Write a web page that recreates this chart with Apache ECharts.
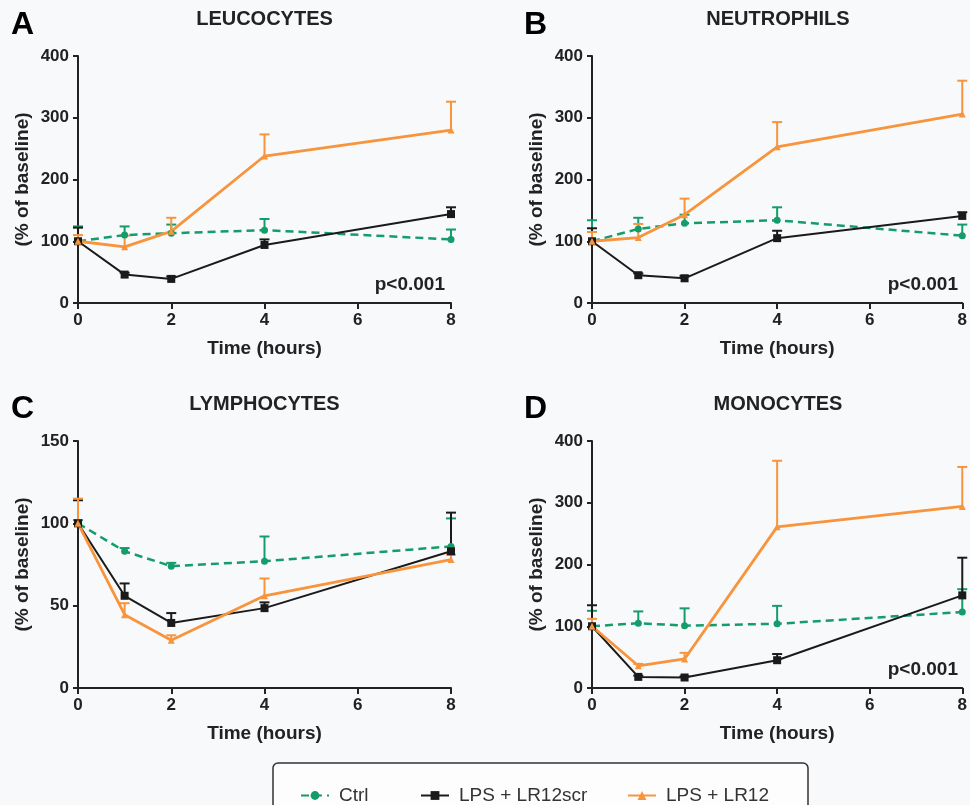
<!DOCTYPE html>
<html><head><meta charset="utf-8">
<script src="https://cdn.jsdelivr.net/npm/echarts@6/dist/echarts.min.js"></script>
<style>html,body{margin:0;padding:0;background:#f8f9fb;}#c{width:970px;height:805px;}</style>
</head><body><div id="c"></div>
<script>
const times = [0, 1, 2, 4, 8];
const seriesNames = ['Ctrl', 'LPS + LR12scr', 'LPS + LR12'];
const panelTitles = ['LEUCOCYTES', 'NEUTROPHILS', 'LYMPHOCYTES', 'MONOCYTES'];
const panelLetters = ['A', 'B', 'C', 'D'];
const yMaxes = [400, 400, 150, 400];
const yIntervals = [100, 100, 50, 100];
const pValueText = 'p<0.001';

// A: Leucocytes
const leuCtrl = [100, 110, 113, 118, 103];
const leuCtrlErr = [24, 14, 14, 18, 16];
const leuScr = [100, 46, 39, 94, 144];
const leuScrErr = [22, 3, 4, 9, 11];
const leuLr12 = [100, 91, 116, 238, 280];
const leuLr12Err = [10, 18, 22, 35, 46];
// B: Neutrophils
const neuCtrl = [100, 120, 129, 134, 109];
const neuCtrlErr = [34, 18, 14, 21, 18];
const neuScr = [100, 45, 40, 105, 141];
const neuScrErr = [21, 3, 4, 12, 6];
const neuLr12 = [100, 106, 143, 253, 306];
const neuLr12Err = [15, 22, 26, 40, 54];
// C: Lymphocytes
const lymCtrl = [100, 83, 74, 77, 86];
const lymCtrlErr = [2, 2, 2, 15, 17];
const lymScr = [100, 56, 39.5, 48.5, 83];
const lymScrErr = [14, 7.5, 6, 3.5, 23.5];
const lymLr12 = [100, 44.5, 29, 56, 78];
const lymLr12Err = [15, 7, 3, 10.5, 3];
// D: Monocytes
const monCtrl = [100, 105, 101, 104, 123];
const monCtrlErr = [25, 19, 28, 29, 37];
const monScr = [100, 18, 17, 45, 150];
const monScrErr = [34, 2, 2, 10, 61];
const monLr12 = [100, 36, 47, 261, 294];
const monLr12Err = [12, 3, 10, 107, 64];

const panelMeans = [[leuCtrl, leuScr, leuLr12], [neuCtrl, neuScr, neuLr12], [lymCtrl, lymScr, lymLr12], [monCtrl, monScr, monLr12]];
const panelErrs = [[leuCtrlErr, leuScrErr, leuLr12Err], [neuCtrlErr, neuScrErr, neuLr12Err], [lymCtrlErr, lymScrErr, lymLr12Err], [monCtrlErr, monScrErr, monLr12Err]];
const showP = [true, true, false, true];

const FONT = "'Liberation Sans', Arial, Helvetica, sans-serif";
const colors = ['#149c6b', '#1a1a1a', '#f7943c'];
const symbols = ['circle', 'rect', 'triangle'];
const symbolSizes = [7, 8, 7];
const lineTypes = [[8, 5], 'solid', 'solid'];
const lineWidths = [2.5, 2, 2.8];
const AX = '#222';

const grids = [
  {left: 78, top: 56, width: 373, height: 247},
  {left: 592, top: 56, width: 372, height: 247},
  {left: 78, top: 441, width: 373, height: 247},
  {left: 592, top: 441, width: 372, height: 247}
];

const xAxes = [], yAxes = [], series = [], graphics = [];
grids.forEach((g, k) => {
  xAxes.push({
    type: 'value', gridIndex: k, min: 0, max: 8, interval: 2,
    name: 'Time (hours)', nameLocation: 'middle', nameGap: 36,
    nameTextStyle: {fontFamily: FONT, fontWeight: 'bold', fontSize: 19, color: AX},
    axisLine: {show: true, onZero: false, lineStyle: {color: AX, width: 2}},
    axisTick: {show: true, length: 6, lineStyle: {color: AX, width: 2}},
    axisLabel: {fontFamily: FONT, fontWeight: 'bold', fontSize: 17, color: AX, margin: 9},
    splitLine: {show: false}
  });
  yAxes.push({
    type: 'value', gridIndex: k, min: 0, max: yMaxes[k], interval: yIntervals[k],
    name: '(% of baseline)', nameLocation: 'middle', nameGap: 46, nameRotate: 90,
    nameTextStyle: {fontFamily: FONT, fontWeight: 'bold', fontSize: 19, color: AX},
    axisLine: {show: true, onZero: false, lineStyle: {color: AX, width: 2}},
    axisTick: {show: true, length: 5, lineStyle: {color: AX, width: 2}},
    axisLabel: {fontFamily: FONT, fontWeight: 'bold', fontSize: 17, color: AX, margin: 9},
    splitLine: {show: false}
  });
  for (let s = 0; s < 3; s++) {
    const means = panelMeans[k][s], errs = panelErrs[k][s], col = colors[s];
    series.push({
      type: 'custom', xAxisIndex: k, yAxisIndex: k, z: 2, silent: true,
      encode: {x: 0, y: [1, 2]},
      data: times.map((t, i) => [t, means[i], means[i] + errs[i]]),
      renderItem: function (params, api) {
        const p0 = api.coord([api.value(0), api.value(1)]);
        const p1 = api.coord([api.value(0), api.value(2)]);
        const hw = 5;
        return {type: 'group', children: [
          {type: 'line', shape: {x1: p0[0], y1: p0[1], x2: p1[0], y2: p1[1]}, style: {stroke: col, lineWidth: 2}},
          {type: 'line', shape: {x1: p1[0] - hw, y1: p1[1], x2: p1[0] + hw, y2: p1[1]}, style: {stroke: col, lineWidth: 2}}
        ]};
      }
    });
    series.push({
      type: 'line', name: seriesNames[s], xAxisIndex: k, yAxisIndex: k, z: 3,
      data: times.map((t, i) => [t, means[i]]),
      symbol: symbols[s], symbolSize: symbolSizes[s], showSymbol: true,
      itemStyle: {color: col},
      lineStyle: {color: col, width: lineWidths[s], type: lineTypes[s]},
      emphasis: {disabled: true}, animation: false
    });
  }
  graphics.push({type: 'text', x: g.left + g.width / 2, y: (k < 2 ? 19 : 404), z: 10,
    style: {text: panelTitles[k], textAlign: 'center', textVerticalAlign: 'middle',
      font: 'bold 20px ' + FONT, fill: '#222'}});
  graphics.push({type: 'text', x: (k % 2 === 0 ? 11 : 524), y: (k < 2 ? 25 : 409), z: 10,
    style: {text: panelLetters[k], textAlign: 'left', textVerticalAlign: 'middle',
      font: 'bold 32px ' + FONT, fill: '#000'}});
  if (showP[k]) {
    graphics.push({type: 'text', x: g.left + g.width - 6, y: g.top + g.height - 18, z: 10,
      style: {text: pValueText, textAlign: 'right', textVerticalAlign: 'middle',
        font: 'bold 19px ' + FONT, fill: '#222'}});
  }
});

graphics.push({type: 'rect', shape: {x: 273, y: 763, width: 535, height: 60, r: 5}, z: -1,
  style: {fill: '#fdfdfe', stroke: '#333', lineWidth: 1.5}});

const legendLefts = [295, 415, 622];
const legends = seriesNames.map((n, i) => ({
  data: [n], left: legendLefts[i], top: 781, itemWidth: 28, itemHeight: 11, selectedMode: false,
  textStyle: {fontFamily: FONT, fontSize: 19, color: '#333', padding: [0, 0, 0, 5]}
}));

const chart = echarts.init(document.getElementById('c'), null, {renderer: 'canvas'});
chart.setOption({
  backgroundColor: '#f8f9fb',
  animation: false,
  grid: grids,
  xAxis: xAxes,
  yAxis: yAxes,
  legend: legends,
  series: series,
  graphic: graphics
});
</script></body></html>
